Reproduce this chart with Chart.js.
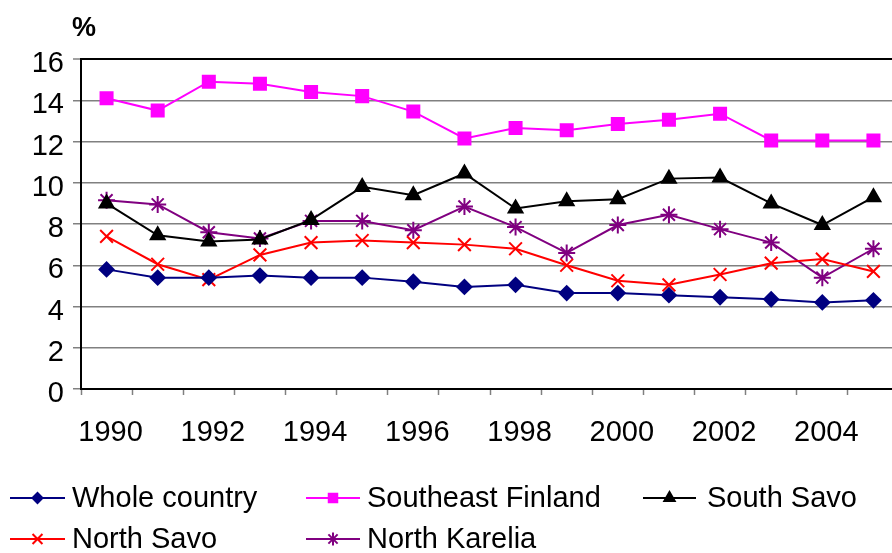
<!DOCTYPE html>
<html>
<head>
<meta charset="utf-8">
<script src="https://cdn.jsdelivr.net/npm/chart.js@4.4.1/dist/chart.umd.min.js"></script>
<style>
  html, body { margin: 0; padding: 0; background: #fff; overflow: hidden; }
  #wrap { position: relative; width: 910px; height: 553px; }
</style>
</head>
<body>
<div id="wrap"><canvas id="chart"></canvas></div>
<script>
const FONT = 'Arial, "Liberation Sans", sans-serif';

const years = ['1990', '1991', '1992', '1993', '1994', '1995', '1996', '1997',
    '1998', '1999', '2000', '2001', '2002', '2003', '2004', '2005'];
const wholeCountry = [5.8, 5.4, 5.4, 5.5, 5.4, 5.4, 5.2, 4.95, 5.05, 4.65, 4.65, 4.55, 4.45, 4.35, 4.2, 4.3];
const southeastFinland = [14.1, 13.5, 14.9, 14.8, 14.4, 14.2, 13.45, 12.15, 12.65, 12.55, 12.85, 13.05, 13.35, 12.05, 12.05, 12.05];
const southSavo = [9.0, 7.45, 7.15, 7.25, 8.2, 9.8, 9.4, 10.45, 8.75, 9.1, 9.2, 10.2, 10.25, 9.0, 7.95, 9.3];
const northSavo = [7.4, 6.05, 5.3, 6.5, 7.1, 7.2, 7.1, 7.0, 6.8, 6.0, 5.25, 5.05, 5.55, 6.1, 6.3, 5.7];
const northKarelia = [9.15, 8.95, 7.6, 7.3, 8.15, 8.15, 7.7, 8.85, 7.85, 6.6, 7.95, 8.45, 7.75, 7.1, 5.4, 6.8];
const yTicks = [0, 2, 4, 6, 8, 10, 12, 14, 16];

function series(label, data, color, style, radius, legendRadius) {
    return {
        label: label,
        data: data,
        borderColor: color,
        backgroundColor: color,
        borderWidth: 2,
        pointStyle: style,
        pointRadius: radius,
        pointBorderWidth: 2,
        pointHoverRadius: radius,
        legendRadius: legendRadius,
        tension: 0
    };
}

// legend drawn by hand: fixed column grid like the original
const legendSlots = [
    { x0: 10, x1: 65, tx: 72, y: 498 },
    { x0: 306, x1: 360, tx: 367, y: 498 },
    { x0: 643, x1: 696, tx: 707, y: 498 },
    { x0: 10, x1: 65, tx: 72, y: 539 },
    { x0: 306, x1: 360, tx: 367, y: 539 }
];

const extras = {
    id: 'extras',
    afterDraw(chart) {
        const ctx = chart.ctx;
        ctx.save();
        ctx.fillStyle = '#000';
        ctx.font = 'bold 27px ' + FONT;
        ctx.textAlign = 'center';
        ctx.textBaseline = 'middle';
        ctx.fillText('%', 84, 29);

        chart.data.datasets.forEach((ds, i) => {
            const s = legendSlots[i];
            ctx.strokeStyle = ds.borderColor;
            ctx.lineWidth = 2;
            ctx.beginPath();
            ctx.moveTo(s.x0, s.y);
            ctx.lineTo(s.x1, s.y);
            ctx.stroke();
            ctx.fillStyle = ds.backgroundColor;
            Chart.helpers.drawPoint(ctx, {
                pointStyle: ds.pointStyle,
                radius: ds.legendRadius,
                borderWidth: 2,
                rotation: 0
            }, (s.x0 + s.x1) / 2, s.y);
            ctx.fillStyle = '#000';
            ctx.font = '29px ' + FONT;
            ctx.textAlign = 'left';
            ctx.textBaseline = 'middle';
            ctx.fillText(ds.label, s.tx, s.y + 1);
        });
        ctx.restore();
    }
};

new Chart(document.getElementById('chart'), {
    type: 'line',
    data: {
        labels: years,
        datasets: [
            series('Whole country', wholeCountry, '#000080', 'rectRot', 7, 5),
            series('Southeast Finland', southeastFinland, '#FF00FF', 'rect', 8.5, 6),
            series('South Savo', southSavo, '#000000', 'triangle', 8, 6),
            series('North Savo', northSavo, '#FF0000', 'crossRot', 9, 7),
            series('North Karelia', northKarelia, '#800080', 'star', 8.5, 6.5)
        ]
    },
    options: {
        responsive: true,
        maintainAspectRatio: false,
        animation: false,
        layout: { padding: { top: 59, right: 8, left: 0, bottom: 0 } },
        plugins: {
            legend: { display: false },
            tooltip: { enabled: false }
        },
        scales: {
            x: {
                offset: true,
                afterFit: scale => { scale.height = 164; },
                grid: {
                    offset: true,
                    drawOnChartArea: false,
                    drawTicks: true,
                    tickLength: 6,
                    tickColor: '#808080',
                    tickWidth: 1.5
                },
                border: { color: '#000', width: 2 },
                ticks: {
                    autoSkip: false,
                    maxRotation: 0,
                    padding: 21,
                    labelOffset: 4,
                    color: '#000',
                    font: { family: FONT, size: 29 },
                    callback: (v, i) => (i % 2 === 0 ? years[i] : '')
                }
            },
            y: {
                min: 0,
                max: 16,
                afterFit: scale => { scale.width = 81; },
                afterBuildTicks: scale => { scale.ticks = yTicks.map(v => ({ value: v })); },
                grid: {
                    color: c => (c.tick && c.tick.value === 16 ? '#000' : '#808080'),
                    lineWidth: c => (c.tick && c.tick.value === 16 ? 2 : 1.5),
                    drawTicks: true,
                    tickLength: 8,
                    tickColor: '#808080',
                    tickWidth: 1.5
                },
                border: { color: '#000', width: 2 },
                ticks: {
                    padding: 9,
                    labelOffset: 5,
                    color: '#000',
                    font: { family: FONT, size: 29 }
                }
            }
        }
    },
    plugins: [extras]
});
</script>
</body>
</html>
